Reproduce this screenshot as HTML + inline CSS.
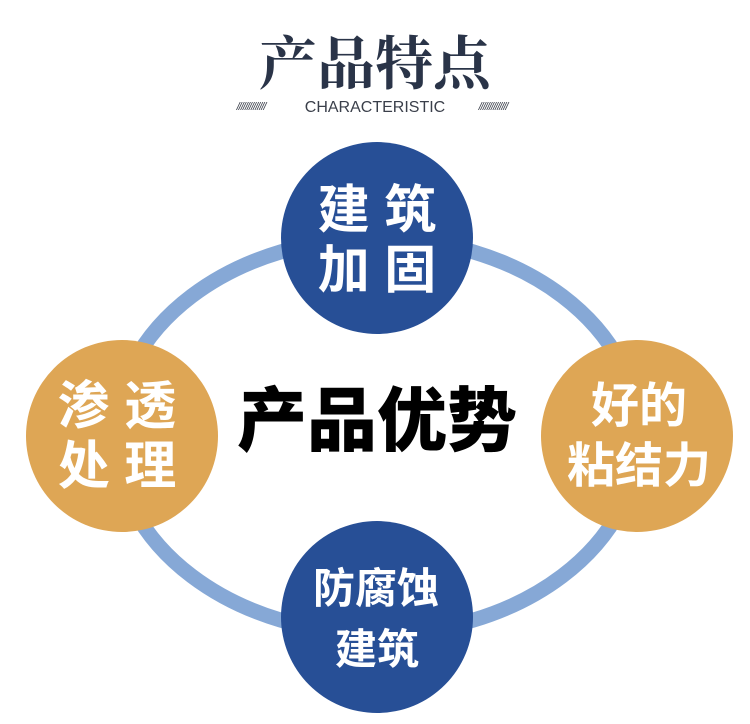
<!DOCTYPE html>
<html><head><meta charset="utf-8"><style>
html,body{margin:0;padding:0;background:#fff;width:750px;height:724px;overflow:hidden}
</style></head><body>
<svg width="750" height="724" viewBox="0 0 750 724" xmlns="http://www.w3.org/2000/svg">
<text x="375" y="84" text-anchor="middle" font-family="'Noto Serif CJK SC',serif" font-weight="bold" font-size="58" fill="#2a3448">产品特点</text>
<text x="375" y="112" text-anchor="middle" font-family="'Liberation Sans',sans-serif" font-size="16" fill="#3a3f4a">CHARACTERISTIC</text>
<text x="251" y="110" text-anchor="middle" font-family="'Liberation Sans',sans-serif" font-style="italic" font-size="11" fill="#3a3f4a" letter-spacing="-1">//////////////</text>
<text x="493" y="110" text-anchor="middle" font-family="'Liberation Sans',sans-serif" font-style="italic" font-size="11" fill="#3a3f4a" letter-spacing="-1">//////////////</text>
<ellipse cx="377" cy="436" rx="262" ry="198" fill="none" stroke="#86a8d6" stroke-width="15"/>
<circle cx="377" cy="238" r="96" fill="#274f96"/>
<circle cx="377" cy="617" r="96" fill="#274f96"/>
<circle cx="122" cy="436" r="96" fill="#dea655"/>
<circle cx="637" cy="436" r="96" fill="#dea655"/>
<g font-family="'Liberation Sans','Noto Sans CJK SC',sans-serif" font-weight="bold" fill="#fff" text-anchor="middle">
<text x="377" y="228" font-size="52">建 筑</text>
<text x="377" y="288" font-size="52">加 固</text>
<text x="117" y="424" font-size="52">渗 透</text>
<text x="117" y="484" font-size="52">处 理</text>
<text x="639" y="422" font-size="48">好的</text>
<text x="639" y="482" font-size="48">粘结力</text>
<text x="376" y="603" font-size="42">防腐蚀</text>
<text x="377" y="664" font-size="42">建筑</text>
</g>
<text x="377" y="445" text-anchor="middle" font-family="'Noto Sans CJK SC',sans-serif" font-weight="900" font-size="70" fill="#000">产品优势</text>
</svg>
</body></html>
